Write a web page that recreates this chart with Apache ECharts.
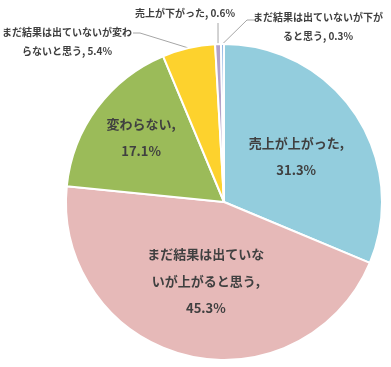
<!DOCTYPE html>
<html><head><meta charset="utf-8">
<script src="https://cdn.jsdelivr.net/npm/echarts@6/dist/echarts.min.js"></script>
<style>html,body{margin:0;padding:0;background:#fff}#c{width:391px;height:367px}</style>
</head><body><div id="c"></div>
<script>
const categories = [
  '売上が上がった',
  'まだ結果は出ていないが上がると思う',
  '変わらない',
  'まだ結果は出ていないが変わらないと思う',
  '売上が下がった',
  'まだ結果は出ていないが下がると思う'
];
const values = [31.3, 45.3, 17.1, 5.4, 0.6, 0.3];
const labelTexts = [
  '売上が上がった,\n31.3%',
  'まだ結果は出ていな\nいが上がると思う,\n45.3%',
  '変わらない,\n17.1%',
  'まだ結果は出ていないが変わ\nらないと思う, 5.4%',
  '売上が下がった, 0.6%',
  'まだ結果は出ていないが下が\nると思う, 0.3%'
];
const colors = ['#93CDDD', '#E6B9B8', '#9BBB59', '#FDD22D', '#B3A2C7', '#8DB4E2'];

const font = '"Noto Sans CJK JP", "Noto Sans", sans-serif';
const innerLabel = {show: true, position: 'inner', color: '#404040', fontSize: 13, fontWeight: 'bold', lineHeight: 27, fontFamily: font, align: 'center'};
const outerLabel = {show: true, position: 'outside', color: '#404040', fontSize: 10, fontWeight: 'bold', lineHeight: 19, fontFamily: font, align: 'center'};

// label layout tweaks (style only)
const innerShift = [[4, 0], [2, 0], [-17, -16]];
const outerPlace = [
  {x: 67, y: 42, bend: [[140, 33], [133, 33]]},
  {x: 185, y: 13, bend: [[218, 23]]},
  {x: 318, y: 27, bend: [[247, 20], [255, 20]]}
];

const chart = echarts.init(document.getElementById('c'), null, {renderer: 'canvas'});
chart.setOption({
  animation: false,
  series: [{
    type: 'pie',
    center: [224, 202],
    radius: [0, 158],
    startAngle: 90,
    clockwise: true,
    avoidLabelOverlap: false,
    itemStyle: {borderColor: '#fff', borderWidth: 2},
    labelLine: {show: true, length: 10, length2: 10, lineStyle: {color: '#A6A6A6', width: 1}},
    data: categories.map((name, i) => ({
      name: name,
      value: values[i],
      itemStyle: {color: colors[i]},
      label: Object.assign({}, i < 3 ? innerLabel : outerLabel, {formatter: labelTexts[i]}),
      labelLine: {show: i >= 3}
    })),
    labelLayout: function (p) {
      const i = p.dataIndex;
      if (i < 3) return {dx: innerShift[i][0], dy: innerShift[i][1]};
      const o = outerPlace[i - 3];
      const start = p.labelLinePoints ? p.labelLinePoints[0] : null;
      const pts = start ? [start].concat(o.bend) : undefined;
      return {x: o.x, y: o.y, align: 'center', verticalAlign: 'middle', labelLinePoints: pts};
    }
  }]
});
</script></body></html>
